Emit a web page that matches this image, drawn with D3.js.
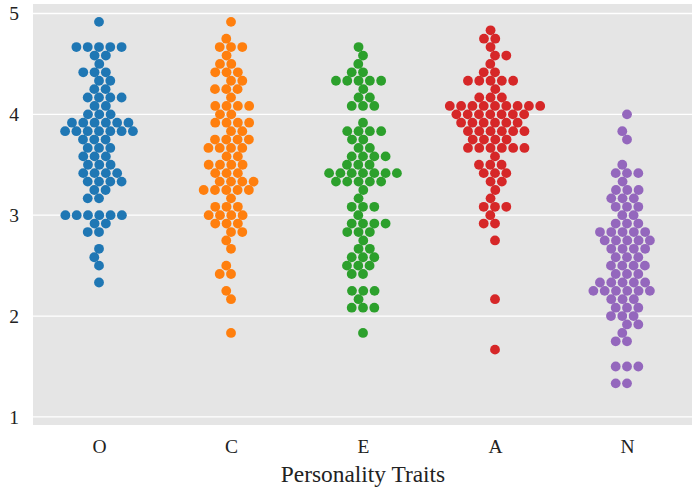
<!DOCTYPE html>
<html><head><meta charset="utf-8">
<script src="https://cdn.jsdelivr.net/npm/d3@7"></script>
<style>body{margin:0;background:#fff}</style>
</head><body>
<svg id="chart" width="692" height="488"></svg>
<script>
// ---- data ----
const categories = ["O", "C", "E", "A", "N"];
const colors = ["#1f77b4", "#ff7f0e", "#2ca02c", "#d62728", "#9467bd"];
const yTicks = [1, 2, 3, 4, 5];
const xLabel = "Personality Traits";

// distinct scores and how many people had each score
const O_scores = [4.917,4.667,4.583,4.5,4.417,4.333,4.25,4.167,4.083,4.0,3.917,3.833,3.75,3.667,3.583,3.5,3.417,3.333,3.25,3.167,3.0,2.917,2.833,2.667,2.583,2.5,2.333];
const O_counts = [1,5,2,1,3,2,2,4,2,3,6,7,3,3,3,3,4,4,2,2,6,2,2,1,1,1,1];

const C_scores = [4.917,4.75,4.667,4.583,4.5,4.417,4.333,4.25,4.167,4.083,4.0,3.917,3.833,3.75,3.667,3.583,3.5,3.417,3.333,3.25,3.167,3.083,3.0,2.917,2.833,2.75,2.667,2.5,2.417,2.25,2.167,1.833];
const C_counts = [1,1,3,1,2,3,2,3,1,4,2,4,2,4,4,2,4,3,4,5,1,3,4,3,2,1,1,1,2,1,1,1];

const E_scores = [4.667,4.583,4.5,4.417,4.333,4.25,4.167,4.083,3.917,3.833,3.75,3.667,3.583,3.5,3.417,3.333,3.25,3.167,3.083,3.0,2.917,2.833,2.75,2.667,2.583,2.5,2.417,2.25,2.167,2.083,1.833];
const E_counts = [1,1,1,2,5,1,2,3,1,4,2,2,4,3,7,5,1,1,3,1,4,3,1,2,3,3,2,3,1,3,1];

const A_scores = [4.833,4.75,4.667,4.583,4.5,4.417,4.333,4.25,4.167,4.083,4.0,3.917,3.833,3.75,3.667,3.583,3.5,3.417,3.333,3.25,3.167,3.083,3.0,2.917,2.75,2.167,1.667];
const A_counts = [1,2,1,2,1,2,5,1,3,9,7,6,6,4,6,1,3,3,2,1,1,3,1,2,1,1,1];

const N_scores = [4.0,3.833,3.75,3.5,3.417,3.333,3.25,3.167,3.083,3.0,2.917,2.833,2.75,2.667,2.583,2.5,2.417,2.333,2.25,2.167,2.083,2.0,1.917,1.833,1.75,1.5,1.333];
const N_counts = [1,1,1,1,3,1,3,3,3,2,3,5,5,4,3,4,3,5,6,3,3,3,2,1,2,3,2];

const groups = [
  [O_scores, O_counts], [C_scores, C_counts], [E_scores, E_counts],
  [A_scores, A_counts], [N_scores, N_counts]
];

// ---- layout ----
const W = 692, H = 488;
const plot = {left: 33, right: 693, top: 4, bottom: 425};
const svg = d3.select("#chart");

const x = d3.scalePoint().domain(categories).range([plot.left, plot.right]).padding(0.5);
const y = d3.scaleLinear().domain([0.92, 5.094]).range([plot.bottom, plot.top]);

svg.append("rect").attr("x", plot.left).attr("y", plot.top)
  .attr("width", plot.right - plot.left).attr("height", plot.bottom - plot.top)
  .attr("fill", "#e5e5e5");

// grid
svg.append("g").selectAll("line").data(yTicks).join("line")
  .attr("x1", plot.left).attr("x2", plot.right)
  .attr("y1", d => y(d)).attr("y2", d => y(d))
  .attr("stroke", "#ffffff").attr("stroke-width", 1.3);

// axes (text only, as in reference)
const yAxis = d3.axisLeft(y).tickValues(yTicks).tickSize(0).tickPadding(14).tickFormat(d3.format("d"));
const gy = svg.append("g").attr("transform", `translate(${plot.left},0)`).call(yAxis);
gy.select(".domain").remove();
gy.selectAll("text").attr("font-family", "'Liberation Serif', 'Times New Roman', serif")
  .attr("font-size", "19.5px").attr("fill", "#222");

const xAxis = d3.axisBottom(x).tickSize(0).tickPadding(14);
const gx = svg.append("g").attr("transform", `translate(0,${plot.bottom})`).call(xAxis);
gx.select(".domain").remove();
gx.selectAll("text").attr("font-family", "'Liberation Serif', 'Times New Roman', serif")
  .attr("font-size", "19.5px").attr("fill", "#222");

svg.append("text").attr("x", (plot.left + plot.right) / 2).attr("y", 482)
  .attr("text-anchor", "middle")
  .attr("font-family", "'Liberation Serif', 'Times New Roman', serif")
  .attr("font-size", "23.4px").attr("fill", "#222").text(xLabel);

// ---- beeswarm (seaborn-like) ----
const D = 10.76;          // collision diameter, px
const yStretch = 1.1675;  // vertical spacing used while packing
function swarm(vals, cx) {
  const sorted = vals.slice().sort((a, b) => a - b);
  const pts = sorted.map(v => ({v, x: cx, y: (y(0.92) - y(v)) * yStretch}));
  const out = [pts[0]];
  for (let i = 1; i < pts.length; i++) {
    const p = pts[i];
    const nb = [];
    for (let j = out.length - 1; j >= 0; j--) {
      if (p.y - out[j].y < D) nb.unshift(out[j]); else break;
    }
    let cands = [p.x];
    let leftFirst = true;
    for (const q of nb) {
      const dy = p.y - q.y;
      const dx = Math.sqrt(Math.max(D * D - dy * dy, 0)) * 1.05;
      if (leftFirst) cands.push(q.x - dx, q.x + dx); else cands.push(q.x + dx, q.x - dx);
      leftFirst = !leftFirst;
    }
    cands = cands.map((c, k) => ({c, k}))
      .sort((a, b) => (Math.abs(a.c - cx) - Math.abs(b.c - cx)) || (a.k - b.k))
      .map(d => d.c);
    let chosen = cands[0];
    if (nb.length) {
      for (const c of cands) {
        if (nb.every(q => (q.x - c) ** 2 + (q.y - p.y) ** 2 >= D * D - 1e-9)) { chosen = c; break; }
      }
    }
    out.push({v: p.v, x: chosen, y: p.y});
  }
  return out;
}

groups.forEach(([scores, counts], i) => {
  const vals = [];
  scores.forEach((s, k) => { for (let n = 0; n < counts[k]; n++) vals.push(s); });
  const pts = swarm(vals, x(categories[i]));
  svg.append("g").selectAll("circle").data(pts).join("circle")
    .attr("cx", d => d.x).attr("cy", d => y(d.v)).attr("r", 4.9)
    .attr("fill", colors[i]);
});
</script>
</body></html>
